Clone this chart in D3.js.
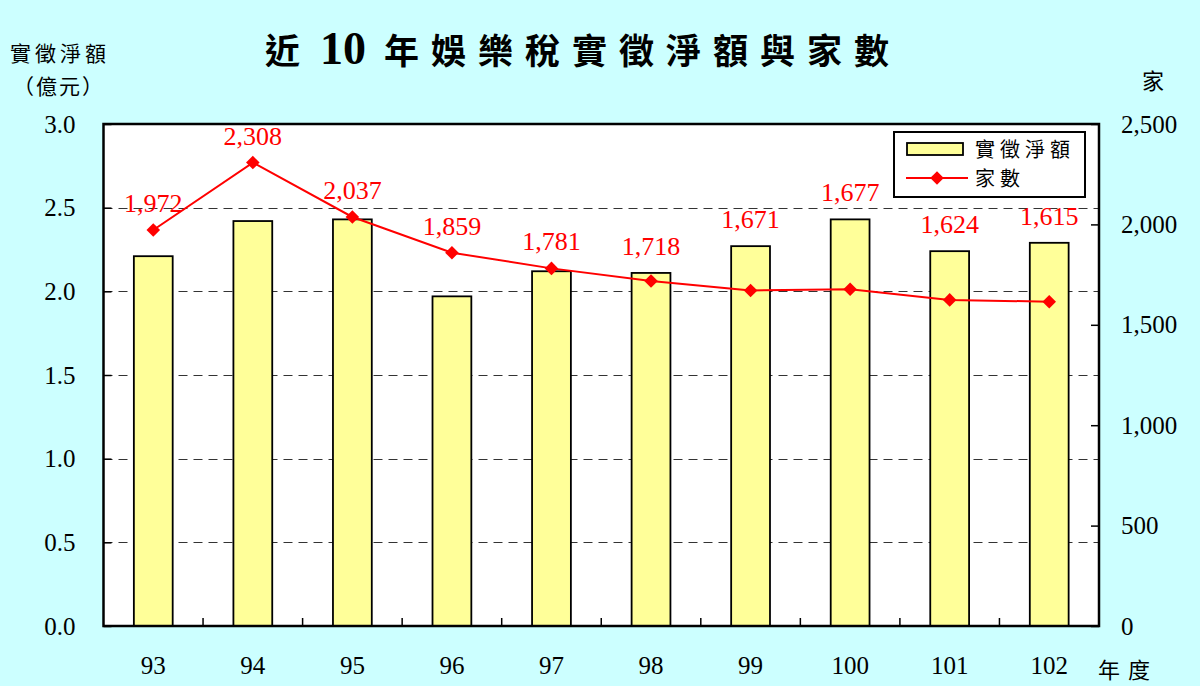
<!DOCTYPE html>
<html><head><meta charset="utf-8">
<script src="https://cdn.jsdelivr.net/npm/d3@7/dist/d3.min.js"></script>
<style>
html,body{margin:0;padding:0;background:#CCFFFF;}
svg{display:block;}
</style></head>
<body>
<svg id="chart" width="1200" height="686"></svg>
<script>
// ---- data ----
const years = ["93","94","95","96","97","98","99","100","101","102"];
const netAmount = [2.21, 2.42, 2.43, 1.97, 2.12, 2.11, 2.27, 2.43, 2.24, 2.29]; // 億元
const households = [1972, 2308, 2037, 1859, 1781, 1718, 1671, 1677, 1624, 1615]; // 家
const leftTicks = [0, 0.5, 1.0, 1.5, 2.0, 2.5, 3.0];
const rightTicks = [0, 500, 1000, 1500, 2000, 2500];
const titleParts = ["近", "10", "年娛樂稅實徵淨額與家數"];
const leftTitle1 = "實徵淨額";
const leftTitle2 = "（億元）";
const rightTitle = "家";
const xTitle = "年度";
const seriesNames = ["實徵淨額", "家數"];

// ---- layout ----
const svg = d3.select("#chart");
const W = 1200, H = 686;
const plot = {x0: 103.5, x1: 1099, y0: 124, y1: 626};
const serif = "'Liberation Serif','Times New Roman',serif";
const cjk = "'Liberation Serif','Noto Sans CJK TC','Noto Sans CJK SC',serif";

svg.append("rect").attr("width", W).attr("height", H).attr("fill", "#CCFFFF");

const x = d3.scaleBand().domain(years).range([plot.x0, plot.x1]).padding(0);
const yL = d3.scaleLinear().domain([0, 3]).range([plot.y1, plot.y0]);
const yR = d3.scaleLinear().domain([0, 2500]).range([plot.y1, plot.y0]);
const barFrac = 0.39;

// plot background
svg.append("rect").attr("x", plot.x0).attr("y", plot.y0)
  .attr("width", plot.x1 - plot.x0).attr("height", plot.y1 - plot.y0)
  .attr("fill", "#FFFFFF");

// gridlines
svg.append("g").selectAll("line").data(leftTicks.filter(d => d > 0 && d < 3)).join("line")
  .attr("x1", plot.x0).attr("x2", plot.x1)
  .attr("y1", d => Math.round(yL(d)) + 0.5).attr("y2", d => Math.round(yL(d)) + 0.5)
  .attr("stroke", "#333").attr("stroke-width", 1).attr("stroke-dasharray", "9,6");

// bars
svg.append("g").selectAll("rect").data(years).join("rect")
  .attr("x", d => x(d) + x.bandwidth() * (1 - barFrac) / 2)
  .attr("width", x.bandwidth() * barFrac)
  .attr("y", (d, i) => yL(netAmount[i]))
  .attr("height", (d, i) => plot.y1 - yL(netAmount[i]))
  .attr("fill", "#FFFF99").attr("stroke", "#000").attr("stroke-width", 1.8);

// axes (ticks inside)
const axL = d3.axisLeft(yL).tickValues(leftTicks).tickSize(-8).tickFormat(d3.format(".1f")).tickPadding(28);
const gL = svg.append("g").attr("transform", `translate(${plot.x0},0)`).call(axL);
gL.select(".domain").remove();
gL.selectAll("line").attr("stroke", "#000").attr("stroke-width", 1.5);
gL.selectAll("text").attr("font-family", serif).attr("font-size", 25).attr("fill", "#000");

const axR = d3.axisRight(yR).tickValues(rightTicks).tickSize(-8).tickFormat(d3.format(",")).tickPadding(22);
const gR = svg.append("g").attr("transform", `translate(${plot.x1},0)`).call(axR);
gR.select(".domain").remove();
gR.selectAll("line").attr("stroke", "#000").attr("stroke-width", 1.5);
gR.selectAll("text").attr("font-family", serif).attr("font-size", 25).attr("fill", "#000");

// category ticks (between categories, inward)
const bounds = years.slice(1).map(d => x(d));
svg.append("g").selectAll("line").data(bounds).join("line")
  .attr("x1", d => d).attr("x2", d => d)
  .attr("y1", plot.y1).attr("y2", plot.y1 - 8)
  .attr("stroke", "#000").attr("stroke-width", 1.5);

const axB = d3.axisBottom(x).tickSize(0).tickPadding(30);
const gB = svg.append("g").attr("transform", `translate(0,${plot.y1})`).call(axB);
gB.select(".domain").remove();
gB.selectAll("text").attr("font-family", serif).attr("font-size", 25).attr("fill", "#000");

// frame
svg.append("rect").attr("x", plot.x0).attr("y", plot.y0)
  .attr("width", plot.x1 - plot.x0).attr("height", plot.y1 - plot.y0)
  .attr("fill", "none").attr("stroke", "#000").attr("stroke-width", 2.5);

// line series
const cx = d => x(d) + x.bandwidth() / 2;
const line = d3.line().x((d, i) => cx(years[i])).y(d => yR(d));
svg.append("path").datum(households).attr("d", line)
  .attr("fill", "none").attr("stroke", "#FF0000").attr("stroke-width", 2);
const diamond = d3.symbol().type(d3.symbolSquare).size(92);
svg.append("g").selectAll("path").data(households).join("path")
  .attr("d", diamond)
  .attr("transform", (d, i) => `translate(${cx(years[i])},${yR(d)}) rotate(45)`)
  .attr("fill", "#FF0000");

// value labels
svg.append("g").selectAll("text").data(households).join("text")
  .attr("x", (d, i) => cx(years[i]))
  .attr("y", (d, i) => Math.min(yR(d), yL(netAmount[i])) - 18)
  .attr("text-anchor", "middle")
  .attr("font-family", serif).attr("font-size", 26).attr("fill", "#FF0000")
  .text(d => d3.format(",")(d));

// title
const t = svg.append("text").attr("x", 265).attr("y", 64).attr("text-anchor", "start")
  .attr("font-weight", "bold").attr("fill", "#000");
t.append("tspan").attr("font-family", cjk).attr("font-size", 35).text(titleParts[0]);
t.append("tspan").attr("dx", 20).attr("font-family", serif).attr("font-size", 46).text(titleParts[1]);
t.append("tspan").attr("dx", 18).attr("font-family", cjk).attr("font-size", 35)
  .attr("letter-spacing", 12).text(titleParts[2]);

// axis titles
svg.append("text").attr("x", 60).attr("y", 61).attr("text-anchor", "middle")
  .attr("font-family", cjk).attr("font-size", 21).attr("letter-spacing", 4)
  .attr("fill", "#000").text(leftTitle1);
svg.append("text").attr("x", 59).attr("y", 94).attr("text-anchor", "middle")
  .attr("font-family", cjk).attr("font-size", 21).attr("letter-spacing", 2)
  .attr("fill", "#000").text(leftTitle2);
svg.append("text").attr("x", 1153).attr("y", 89).attr("text-anchor", "middle")
  .attr("font-family", cjk).attr("font-size", 22)
  .attr("fill", "#000").text(rightTitle);
svg.append("text").attr("x", 1098).attr("y", 678).attr("text-anchor", "start")
  .attr("font-family", cjk).attr("font-size", 22).attr("letter-spacing", 8)
  .attr("fill", "#000").text(xTitle);

// legend
const lg = svg.append("g");
lg.append("rect").attr("x", 894).attr("y", 132).attr("width", 191).attr("height", 65)
  .attr("fill", "#fff").attr("stroke", "#000").attr("stroke-width", 2);
lg.append("rect").attr("x", 907).attr("y", 143).attr("width", 56).attr("height", 12)
  .attr("fill", "#FFFF99").attr("stroke", "#000").attr("stroke-width", 1.8);
lg.append("line").attr("x1", 906).attr("x2", 968).attr("y1", 178).attr("y2", 178)
  .attr("stroke", "#FF0000").attr("stroke-width", 2);
lg.append("path").attr("d", diamond).attr("transform", "translate(937,178) rotate(45)").attr("fill", "#FF0000");
lg.selectAll("text.lt").data(seriesNames).join("text").attr("class", "lt")
  .attr("x", 975).attr("y", (d, i) => 157 + i * 29)
  .attr("font-family", cjk).attr("font-size", 20).attr("letter-spacing", 5)
  .attr("fill", "#000").text(d => d);
</script>
</body></html>
